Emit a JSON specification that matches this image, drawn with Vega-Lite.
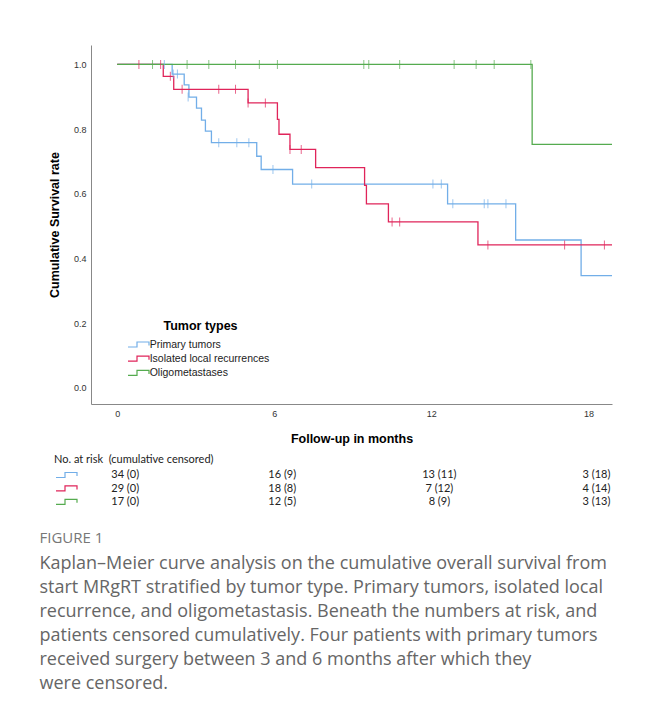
{
  "$schema": "https://vega.github.io/schema/vega-lite/v6.json",
  "background": "white",
  "padding": {"left": 39, "top": 45, "right": 10, "bottom": 5},
  "autosize": {"type": "pad"},
  "bounds": "flush",
  "spacing": 64,
  "datasets": {
    "curves": [
      {"group": "Primary tumors", "month": 0, "surv": 1.0},
      {"group": "Primary tumors", "month": 2.1, "surv": 0.970},
      {"group": "Primary tumors", "month": 2.56, "surv": 0.937},
      {"group": "Primary tumors", "month": 2.74, "surv": 0.899},
      {"group": "Primary tumors", "month": 3.03, "surv": 0.865},
      {"group": "Primary tumors", "month": 3.22, "surv": 0.828},
      {"group": "Primary tumors", "month": 3.37, "surv": 0.794},
      {"group": "Primary tumors", "month": 3.6, "surv": 0.758},
      {"group": "Primary tumors", "month": 5.33, "surv": 0.716},
      {"group": "Primary tumors", "month": 5.5, "surv": 0.675},
      {"group": "Primary tumors", "month": 6.7, "surv": 0.630},
      {"group": "Primary tumors", "month": 12.62, "surv": 0.569},
      {"group": "Primary tumors", "month": 15.22, "surv": 0.457},
      {"group": "Primary tumors", "month": 17.72, "surv": 0.347},
      {"group": "Primary tumors", "month": 18.9, "surv": 0.347},
      {"group": "Isolated local recurrences", "month": 0, "surv": 1.0},
      {"group": "Isolated local recurrences", "month": 1.76, "surv": 0.963},
      {"group": "Isolated local recurrences", "month": 2.16, "surv": 0.923},
      {"group": "Isolated local recurrences", "month": 5.0, "surv": 0.881},
      {"group": "Isolated local recurrences", "month": 6.12, "surv": 0.830},
      {"group": "Isolated local recurrences", "month": 6.18, "surv": 0.784},
      {"group": "Isolated local recurrences", "month": 6.6, "surv": 0.737},
      {"group": "Isolated local recurrences", "month": 7.58, "surv": 0.681},
      {"group": "Isolated local recurrences", "month": 9.45, "surv": 0.626},
      {"group": "Isolated local recurrences", "month": 9.52, "surv": 0.569},
      {"group": "Isolated local recurrences", "month": 10.36, "surv": 0.513},
      {"group": "Isolated local recurrences", "month": 13.78, "surv": 0.442},
      {"group": "Isolated local recurrences", "month": 18.9, "surv": 0.442},
      {"group": "Oligometastases", "month": 0, "surv": 1.0},
      {"group": "Oligometastases", "month": 15.85, "surv": 0.753},
      {"group": "Oligometastases", "month": 18.9, "surv": 0.753}
    ],
    "censored": [
      {"group": "Primary tumors", "month": 1.8, "surv": 1.0},
      {"group": "Primary tumors", "month": 2.14, "surv": 0.970},
      {"group": "Primary tumors", "month": 2.3, "surv": 0.970},
      {"group": "Primary tumors", "month": 2.71, "surv": 0.899},
      {"group": "Primary tumors", "month": 3.88, "surv": 0.758},
      {"group": "Primary tumors", "month": 4.57, "surv": 0.758},
      {"group": "Primary tumors", "month": 5.03, "surv": 0.758},
      {"group": "Primary tumors", "month": 5.95, "surv": 0.675},
      {"group": "Primary tumors", "month": 7.43, "surv": 0.630},
      {"group": "Primary tumors", "month": 12.06, "surv": 0.630},
      {"group": "Primary tumors", "month": 12.38, "surv": 0.630},
      {"group": "Primary tumors", "month": 12.82, "surv": 0.569},
      {"group": "Primary tumors", "month": 14.02, "surv": 0.569},
      {"group": "Primary tumors", "month": 14.16, "surv": 0.569},
      {"group": "Primary tumors", "month": 14.85, "surv": 0.569},
      {"group": "Isolated local recurrences", "month": 0.83, "surv": 1.0},
      {"group": "Isolated local recurrences", "month": 1.66, "surv": 1.0},
      {"group": "Isolated local recurrences", "month": 2.03, "surv": 0.963},
      {"group": "Isolated local recurrences", "month": 2.48, "surv": 0.923},
      {"group": "Isolated local recurrences", "month": 3.88, "surv": 0.923},
      {"group": "Isolated local recurrences", "month": 4.52, "surv": 0.923},
      {"group": "Isolated local recurrences", "month": 5.0, "surv": 0.881},
      {"group": "Isolated local recurrences", "month": 5.66, "surv": 0.881},
      {"group": "Isolated local recurrences", "month": 6.6, "surv": 0.737},
      {"group": "Isolated local recurrences", "month": 7.03, "surv": 0.737},
      {"group": "Isolated local recurrences", "month": 10.5, "surv": 0.513},
      {"group": "Isolated local recurrences", "month": 10.79, "surv": 0.513},
      {"group": "Isolated local recurrences", "month": 14.16, "surv": 0.442},
      {"group": "Isolated local recurrences", "month": 17.09, "surv": 0.442},
      {"group": "Isolated local recurrences", "month": 18.61, "surv": 0.442},
      {"group": "Oligometastases", "month": 1.35, "surv": 1.0},
      {"group": "Oligometastases", "month": 2.67, "surv": 1.0},
      {"group": "Oligometastases", "month": 3.5, "surv": 1.0},
      {"group": "Oligometastases", "month": 4.52, "surv": 1.0},
      {"group": "Oligometastases", "month": 5.43, "surv": 1.0},
      {"group": "Oligometastases", "month": 6.12, "surv": 1.0},
      {"group": "Oligometastases", "month": 9.42, "surv": 1.0},
      {"group": "Oligometastases", "month": 9.61, "surv": 1.0},
      {"group": "Oligometastases", "month": 10.79, "surv": 1.0},
      {"group": "Oligometastases", "month": 12.87, "surv": 1.0},
      {"group": "Oligometastases", "month": 13.71, "surv": 1.0},
      {"group": "Oligometastases", "month": 14.4, "surv": 1.0},
      {"group": "Oligometastases", "month": 15.8, "surv": 1.0}
    ],
    "atrisk": [
      {"group": "Primary tumors", "month": 0, "label": "34 (0)"},
      {"group": "Primary tumors", "month": 6, "label": "16 (9)"},
      {"group": "Primary tumors", "month": 12, "label": "13 (11)"},
      {"group": "Primary tumors", "month": 18, "label": "3 (18)"},
      {"group": "Isolated local recurrences", "month": 0, "label": "29 (0)"},
      {"group": "Isolated local recurrences", "month": 6, "label": "18 (8)"},
      {"group": "Isolated local recurrences", "month": 12, "label": "7 (12)"},
      {"group": "Isolated local recurrences", "month": 18, "label": "4 (14)"},
      {"group": "Oligometastases", "month": 0, "label": "17 (0)"},
      {"group": "Oligometastases", "month": 6, "label": "12 (5)"},
      {"group": "Oligometastases", "month": 12, "label": "8 (9)"},
      {"group": "Oligometastases", "month": 18, "label": "3 (13)"}
    ]
  },
  "title": {
    "text": "FIGURE 1",
    "subtitle": [
      "Kaplan–Meier curve analysis on the cumulative overall survival from",
      "start MRgRT stratified by tumor type. Primary tumors, isolated local",
      "recurrence, and oligometastasis. Beneath the numbers at risk, and",
      "patients censored cumulatively. Four patients with primary tumors",
      "received surgery between 3 and 6 months after which they",
      "were censored."
    ],
    "orient": "bottom",
    "anchor": "start",
    "frame": "bounds",
    "offset": 22,
    "dx": -9,
    "font": "Open Sans",
    "fontSize": 15,
    "fontWeight": "normal",
    "color": "#777777",
    "subtitleFont": "Open Sans",
    "subtitleFontSize": 18,
    "subtitleColor": "#666666",
    "subtitleLineHeight": 24,
    "subtitlePadding": 9
  },
  "resolve": {"scale": {"x": "independent"}, "legend": {"color": "independent", "stroke": "independent"}},
  "vconcat": [
    {
      "width": 521,
      "height": 359,
      "layer": [
        {
          "data": {"name": "curves"},
          "mark": {"type": "line", "interpolate": "step-after", "strokeWidth": 1.3},
          "encoding": {
            "x": {
              "field": "month", "type": "quantitative",
              "scale": {"domain": [-1, 18.9], "nice": false, "zero": false},
              "axis": {"values": [0, 6, 12, 18], "title": "Follow-up in months", "labelPadding": 5, "titlePadding": 14}
            },
            "y": {
              "field": "surv", "type": "quantitative",
              "scale": {"domain": [-0.05, 1.06], "nice": false, "zero": false},
              "axis": {"values": [0, 0.2, 0.4, 0.6, 0.8, 1.0], "format": ".1f", "title": "Cumulative Survival rate", "labelPadding": 5, "titlePadding": 12}
            },
            "color": {
              "field": "group", "type": "nominal",
              "scale": {
                "domain": ["Primary tumors", "Isolated local recurrences", "Oligometastases"],
                "range": ["#72aee8", "#e0245a", "#55ab4f"]
              },
              "legend": {
                "orient": "none",
                "legendX": 41.5,
                "legendY": 275,
                "title": "Tumor types",
                "titleFont": "Liberation Sans",
                "titleFontSize": 12.5,
                "titleFontWeight": "bold",
                "titleColor": "#000000",
                "titleAnchor": "middle",
                "titlePadding": 6,
                "labelFont": "Liberation Sans",
                "labelFontSize": 10.5,
                "labelColor": "#222222",
                "labelOffset": 5.2,
                "symbolType": "M-2.1,0.5 L-0.3,0.5 L-0.3,-0.5 L2.1,-0.5 L2.1,0.2 L2.1,-0.5 L-0.3,-0.5 L-0.3,0.5 Z",
                "symbolSize": 100,
                "symbolStrokeWidth": 1.2,
                "rowPadding": 2.2,
                "encode": {
                  "symbols": {
                    "update": {
                      "fill": {"value": "transparent"},
                      "stroke": {"scale": "color", "field": "value"},
                      "strokeWidth": {"value": 1.2}
                    }
                  }
                }
              }
            }
          }
        },
        {
          "data": {"name": "censored"},
          "mark": {"type": "tick", "orient": "vertical", "size": 9, "thickness": 1},
          "encoding": {
            "x": {"field": "month", "type": "quantitative"},
            "y": {"field": "surv", "type": "quantitative"},
            "color": {"field": "group", "type": "nominal"}
          }
        }
      ]
    },
    {
      "width": 521,
      "height": 41,
      "data": {"name": "atrisk"},
      "mark": {"type": "text", "align": "center", "dx": 8, "font": "Lato", "fontSize": 11, "fill": "#222222", "strokeWidth": 0},
      "encoding": {
        "x": {
          "field": "month", "type": "quantitative",
          "scale": {"domain": [-1, 18.9], "nice": false, "zero": false},
          "axis": null
        },
        "y": {
          "field": "group", "type": "nominal",
          "scale": {"type": "point", "domain": ["Primary tumors", "Isolated local recurrences", "Oligometastases"], "padding": 0.5},
          "axis": null
        },
        "text": {"field": "label", "type": "nominal"},
        "stroke": {
          "field": "group", "type": "nominal",
          "sort": ["Primary tumors", "Isolated local recurrences", "Oligometastases"],
          "scale": {
            "range": ["#72aee8", "#e0245a", "#55ab4f"]
          },
          "legend": {
            "orient": "none",
            "legendX": -37,
            "legendY": -14,
            "title": "No. at risk\u00a0 (cumulative censored)",
            "titleFont": "Lato",
            "titleFontSize": 11,
            "titleFontWeight": "normal",
            "titleColor": "#222222",
            "titleLimit": 400,
            "titlePadding": 4,
            "labelExpr": "''",
            "labelFontSize": 11,
            "symbolType": "M-2.1,0.5 L-0.3,0.5 L-0.3,-0.5 L2.1,-0.5 L2.1,0.2 L2.1,-0.5 L-0.3,-0.5 L-0.3,0.5 Z",
            "symbolSize": 100,
            "symbolStrokeWidth": 1.2,
            "symbolOpacity": 1,
            "rowPadding": 2.4,
            "symbolOffset": 6.5,
            "encode": {
              "symbols": {
                "update": {
                  "fill": {"value": "transparent"},
                  "stroke": {"scale": "stroke", "field": "value"},
                  "strokeWidth": {"value": 1.2},
                  "opacity": {"value": 1}
                }
              }
            }
          }
        }
      }
    }
  ],
  "config": {
    "view": {"stroke": null},
    "axis": {
      "domainColor": "#888888",
      "domainWidth": 1,
      "ticks": false,
      "grid": false,
      "labelFont": "Liberation Sans",
      "labelFontSize": 9,
      "labelColor": "#333333",
      "titleFont": "Liberation Sans",
      "titleFontSize": 12.5,
      "titleFontWeight": "bold",
      "titleColor": "#000000"
    }
  }
}
